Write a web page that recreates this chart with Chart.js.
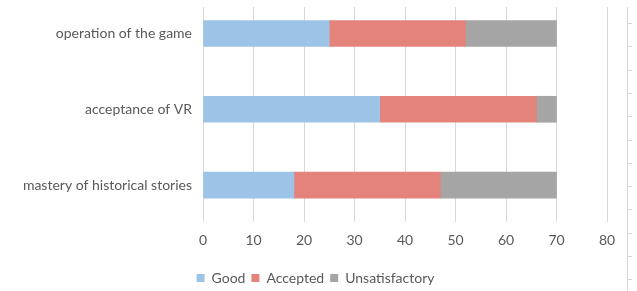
<!DOCTYPE html>
<html>
<head>
<meta charset="utf-8">
<script src="https://cdn.jsdelivr.net/npm/chart.js@4.4.1/dist/chart.umd.min.js"></script>
<style>
  html, body { margin: 0; padding: 0; background: #fff; }
  #wrap { width: 637px; height: 291px; position: relative; }
</style>
</head>
<body>
<div id="wrap"><canvas id="graph"></canvas></div>
<script>
// chart data
const categories = ['operation of the game', 'acceptance of VR', 'mastery of historical stories'];
const goodValues = [25, 35, 18];
const acceptedValues = [27, 31, 29];
const unsatisfactoryValues = [18, 4, 23];
const xTicks = [0, 10, 20, 30, 40, 50, 60, 70, 80];

style = {
  good: '#9DC3E6',
  accepted: '#E3837B',
  unsatisfactory: '#A5A5A5',
  grid: '#D9D9D9',
  text: '#595959',
  font: "Lato, 'Open Sans', sans-serif"
}

// bars sit on a numeric index axis so the band can be placed like the excel one
const toPoints = (values) => values.map((v, i) => ({ x: v, y: i }));

// stray axis line on the right edge of the original picture
const edgeAxis = {
  id: 'edgeAxis',
  afterDraw(chart) {
    const ctx = chart.ctx;
    ctx.save();
    ctx.strokeStyle = style.grid;
    ctx.lineWidth = 1;
    ctx.beginPath();
    ctx.moveTo(627.5, 7);
    ctx.lineTo(627.5, 291);
    for (let k = 0; k < 12; k++) {
      const y = Math.round(23 + k * 23.3) + 0.5;
      ctx.moveTo(627, y);
      ctx.lineTo(632, y);
    }
    ctx.stroke();
    ctx.restore();
  }
};

const data = {
  datasets: [{
    label: 'Good',
    data: toPoints(goodValues),
    backgroundColor: style.good
  }, {
    label: 'Accepted',
    data: toPoints(acceptedValues),
    backgroundColor: style.accepted
  }, {
    label: 'Unsatisfactory',
    data: toPoints(unsatisfactoryValues),
    backgroundColor: style.unsatisfactory
  }]
};

const config = {
  type: 'bar',
  data,
  options: {
    indexAxis: 'y',
    responsive: true,
    maintainAspectRatio: false,
    animation: false,
    barThickness: 26,
    layout: {
      padding: { top: 7, right: 10, left: 4, bottom: 0 }
    },
    scales: {
      x: {
        stacked: true,
        min: 0,
        max: 80,
        afterBuildTicks: (scale) => { scale.ticks = xTicks.map(v => ({ value: v })); },
        afterFit: (scale) => {
          // room for the legend gap and the empty strip on the right
          scale.height = 43;
          scale.paddingRight = 30;
        },
        grid: { color: style.grid, lineWidth: 1, drawTicks: false },
        border: { display: false },
        ticks: {
          color: style.text,
          padding: 10,
          font: { family: style.font, size: 14 }
        }
      },
      y: {
        type: 'linear',
        stacked: true,
        reverse: true,
        offset: false,
        min: -0.349,
        max: 2.487,
        afterBuildTicks: (scale) => { scale.ticks = categories.map((c, i) => ({ value: i })); },
        afterFit: (scale) => {
          scale.width = 199;
          scale.paddingTop = 0;
          scale.paddingBottom = 0;
        },
        grid: { display: false, offset: false, drawTicks: false },
        border: { display: false },
        ticks: {
          color: style.text,
          padding: 11,
          font: { family: style.font, size: 14 },
          callback: (v) => categories[v]
        }
      }
    },
    plugins: {
      tooltip: { enabled: false },
      legend: {
        position: 'bottom',
        maxHeight: 26,
        labels: {
          color: style.text,
          boxWidth: 8,
          boxHeight: 8,
          padding: 6,
          font: { family: style.font, size: 14 }
        }
      }
    }
  },
  plugins: [edgeAxis]
};

graph = new Chart(document.getElementById('graph'), config);
</script>
</body>
</html>
